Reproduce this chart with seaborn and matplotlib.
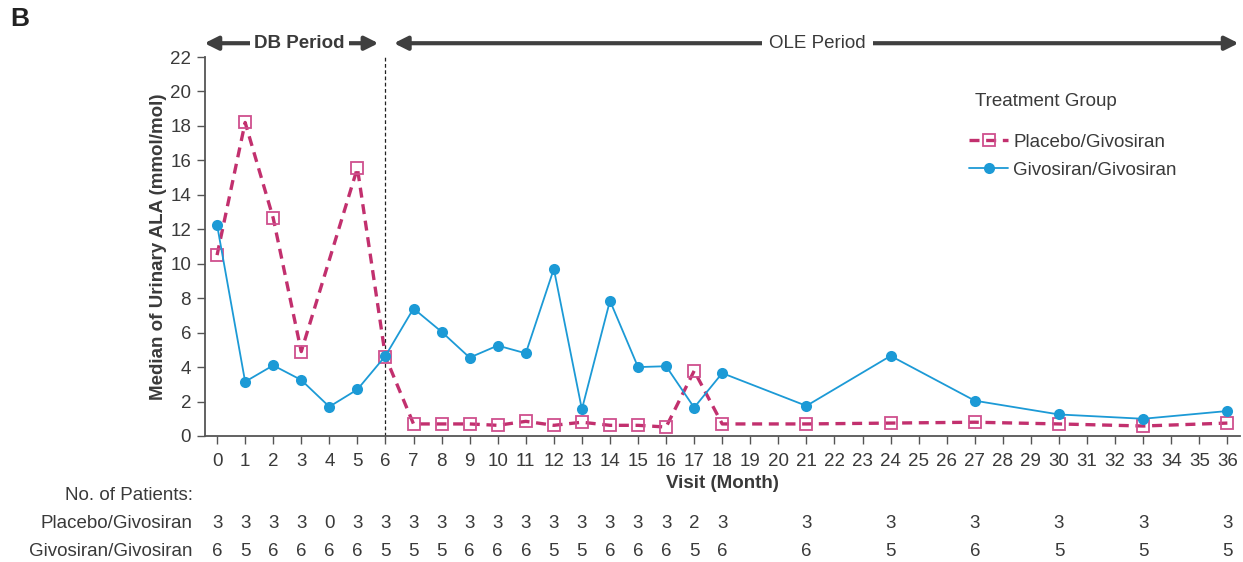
import matplotlib
matplotlib.use("Agg")
import matplotlib.pyplot as plt
import matplotlib.transforms as mtransforms
import seaborn as sns
import pandas as pd

# ---------------- data ----------------
months_giv = [0, 1, 2, 3, 4, 5, 6, 7, 8, 9, 10, 11, 12, 13, 14, 15, 16, 17, 18, 21, 24, 27, 30, 33, 36]
ala_giv = [12.25, 3.15, 4.1, 3.25, 1.7, 2.7, 4.65, 7.4, 6.05, 4.55, 5.25, 4.8, 9.7, 1.55, 7.85,
           4.0, 4.05, 1.65, 3.65, 1.75, 4.65, 2.05, 1.25, 1.0, 1.45]

months_pbo = [0, 1, 2, 3, 5, 6, 7, 8, 9, 10, 11, 12, 13, 14, 15, 16, 17, 18, 21, 24, 27, 30, 33, 36]
ala_pbo = [10.5, 18.2, 12.65, 4.9, 15.55, 4.6, 0.7, 0.7, 0.7, 0.62, 0.85, 0.62, 0.8, 0.62, 0.62,
           0.52, 3.78, 0.7, 0.7, 0.75, 0.8, 0.7, 0.58, 0.75]

n_months = [0, 1, 2, 3, 4, 5, 6, 7, 8, 9, 10, 11, 12, 13, 14, 15, 16, 17, 18, 21, 24, 27, 30, 33, 36]
n_pbo = [3, 3, 3, 3, 0, 3, 3, 3, 3, 3, 3, 3, 3, 3, 3, 3, 3, 2, 3, 3, 3, 3, 3, 3, 3]
n_giv = [6, 5, 6, 6, 6, 6, 5, 5, 5, 6, 6, 6, 5, 5, 6, 6, 6, 5, 6, 6, 5, 6, 5, 5, 5]

x_ticks = list(range(0, 37))
y_ticks = list(range(0, 23, 2))

lbl_pbo = "Placebo/Givosiran"
lbl_giv = "Givosiran/Givosiran"

# ---------------- style ----------------
sns.set_style("ticks")
plt.rcParams["font.family"] = ["Liberation Sans", "DejaVu Sans"]
txt = "#3a3a3a"
c_pbo = "#C2306E"
c_pbo_m = "#CF4F8E"
c_giv = "#1C9AD6"
fs = 13.5

fig = plt.figure(figsize=(12.43, 5.62), dpi=100)
ax = fig.add_axes([205 / 1243, 1 - 436 / 562, (1240 - 205) / 1243, (436 - 57) / 562])

df_pbo = pd.DataFrame({"month": months_pbo, "ala": ala_pbo})
df_giv = pd.DataFrame({"month": months_giv, "ala": ala_giv})

sns.lineplot(data=df_pbo, x="month", y="ala", ax=ax, color=c_pbo, lw=2.4,
             dashes=False, linestyle=(0, (3, 2)), marker="s", markersize=8,
             markerfacecolor="none", markeredgecolor=c_pbo_m, markeredgewidth=1.3,
             label=lbl_pbo, zorder=3)
sns.lineplot(data=df_giv, x="month", y="ala", ax=ax, color=c_giv, lw=1.3,
             marker="o", markersize=8, markeredgewidth=0, label=lbl_giv, zorder=4)

ax.set_xlim(-0.43, 36.45)
ax.set_ylim(0, 22)
ax.set_xticks(x_ticks)
ax.set_yticks(y_ticks)
ax.tick_params(axis="both", labelsize=fs, colors="#555555", labelcolor=txt, length=6, width=1.0)
ax.tick_params(axis="x", pad=6)
ax.tick_params(axis="y", pad=4)
for s in ["top", "right"]:
    ax.spines[s].set_visible(False)
for s in ["left", "bottom"]:
    ax.spines[s].set_color("#555555")
    ax.spines[s].set_linewidth(1.3)

ax.set_xlabel("Visit (Month)", fontsize=fs, fontweight="bold", color=txt, labelpad=4)
ax.set_ylabel("Median of Urinary ALA (mmol/mol)", fontsize=fs, fontweight="bold", color=txt, labelpad=2)

# vertical dashed separator
ax.axvline(6, color="#222222", lw=0.9, ls=(0, (3, 2)), zorder=1)

# period arrows
ya = 22.8
arrow_kw = dict(arrowstyle="<|-|>", color="#3f3f3f", lw=3, mutation_scale=20, shrinkA=0, shrinkB=0)
ax.annotate("", xy=(-0.45, ya), xytext=(5.75, ya), arrowprops=arrow_kw, annotation_clip=False)
ax.annotate("", xy=(6.3, ya), xytext=(36.4, ya), arrowprops=arrow_kw, annotation_clip=False)
ax.text(2.93, ya, "DB Period", ha="center", va="center", fontsize=fs, color=txt, clip_on=False,
        fontweight="semibold", bbox=dict(facecolor="white", edgecolor="none", pad=3))
ax.text(21.4, ya, "OLE Period", ha="center", va="center", fontsize=fs, color=txt, clip_on=False,
        fontstretch="condensed", bbox=dict(facecolor="white", edgecolor="none", pad=5))

# legend
leg = ax.legend(title="Treatment Group", frameon=False, fontsize=fs, title_fontsize=fs,
                loc="upper left", bbox_to_anchor=(952 / 1243, 1 - 76 / 562),
                bbox_transform=fig.transFigure, alignment="left", handlelength=2.1,
                handletextpad=0.27, labelspacing=0.6)
leg.get_title().set_color(txt)
leg.get_title().set_position((6, 0))
leg._legend_box.sep = 17
for t in leg.get_texts():
    t.set_color(txt)

# patient numbers table
trans = mtransforms.blended_transform_factory(ax.transData, fig.transFigure)
y_head, y_pbo, y_giv = 1 - 495 / 562, 1 - 523 / 562, 1 - 551 / 562
x_lab = 193 / 1243
fig.text(x_lab, y_head, "No. of Patients:", ha="right", va="center", fontsize=fs, color=txt)
fig.text(x_lab, y_pbo, lbl_pbo, ha="right", va="center", fontsize=fs, color=txt)
fig.text(x_lab, y_giv, lbl_giv, ha="right", va="center", fontsize=fs, color=txt)
for m, a, b in zip(n_months, n_pbo, n_giv):
    ax.text(m, y_pbo, str(a), transform=trans, ha="center", va="center", fontsize=fs, color=txt, clip_on=False)
    ax.text(m, y_giv, str(b), transform=trans, ha="center", va="center", fontsize=fs, color=txt, clip_on=False)

fig.text(10 / 1243, 1 - 19 / 562, "B", fontsize=19, fontweight="bold", color="#222222", va="center", ha="left")

fig.savefig("out.png", dpi=100)
